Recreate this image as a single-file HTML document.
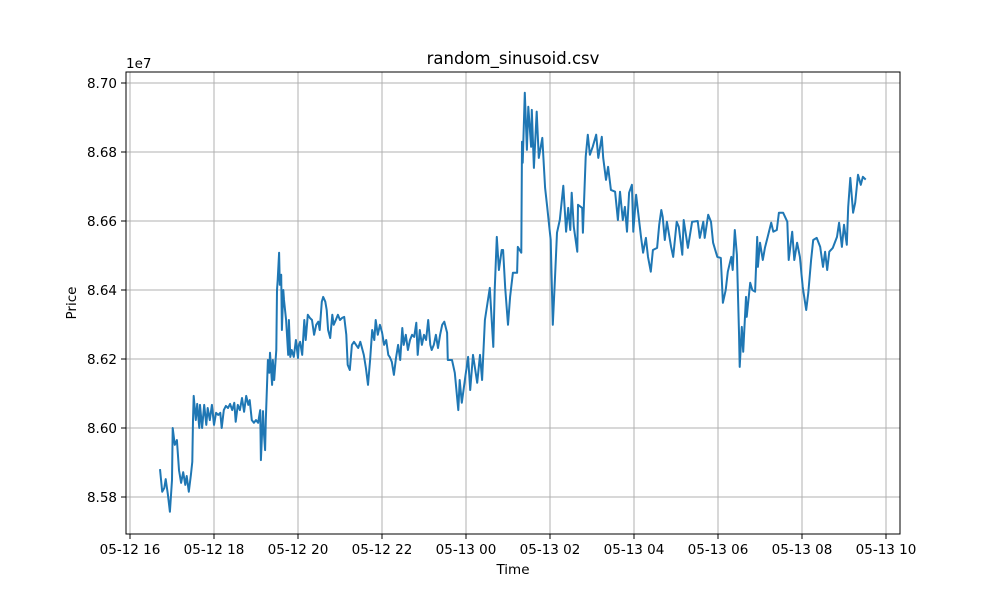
<!DOCTYPE html>
<html><head><meta charset="utf-8"><style>
body{margin:0;background:#fff;}
svg text{font-family:"DejaVu Sans","Liberation Sans",sans-serif;fill:#000;}
</style></head><body>
<svg id="chart" width="1000" height="600" xmlns="http://www.w3.org/2000/svg">
<rect width="1000" height="600" fill="#fff"/>
<g id="grid"></g>
<g id="series"></g>
<rect x="126" y="72" width="774" height="462" fill="none" stroke="#000" stroke-width="1"/>
<g id="axes"></g>
<text x="513" y="64" font-size="16.5" text-anchor="middle">random_sinusoid.csv</text>
<text x="513" y="574" font-size="13.5" text-anchor="middle">Time</text>
<text x="76" y="303" font-size="13.5" text-anchor="middle" transform="rotate(-90 76 303)">Price</text>
<text x="126" y="68" font-size="13.5">1e7</text>
</svg>
<script>
// minutes since 05-12 16:00
const times=[43,46,49,51,54,57,60,61,64,67,70,73,76,79,81,84,87,89,90,91,94,96,99,100,103,106,109,111,114,117,120,123,126,129,131,134,137,140,143,146,149,151,154,157,160,163,166,169,171,174,177,180,183,186,187,190,191,193,194,197,199,200,203,204,206,209,210,211,213,214,216,217,219,220,223,226,227,229,231,234,237,240,241,243,246,249,251,254,257,260,263,266,269,271,274,276,279,281,283,286,289,291,294,297,300,303,306,309,311,314,317,320,323,326,329,331,334,337,340,343,346,349,351,354,357,360,363,366,369,371,374,377,380,383,386,389,391,394,397,400,403,406,409,411,414,417,420,423,426,429,431,434,437,440,443,446,449,453,454,460,464,469,471,474,479,483,486,490,496,500,503,507,514,519,521,524,527,531,533,536,540,543,547,553,554,559,560,561,564,567,569,573,574,577,581,584,589,593,596,599,601,604,607,610,614,619,623,626,629,631,634,639,640,646,647,651,654,657,661,666,669,674,676,680,683,687,693,697,700,704,707,710,713,717,719,723,726,730,733,737,740,744,747,753,756,759,761,764,767,773,776,781,784,789,791,797,803,811,814,819,821,826,830,833,839,844,847,851,854,859,861,864,867,870,871,874,876,880,881,886,889,893,896,897,900,904,907,911,916,919,924,927,933,939,941,946,949,953,957,961,966,969,973,976,981,986,990,993,996,999,1004,1010,1013,1017,1020,1024,1026,1029,1033,1036,1040,1044,1047,1050];
// price in units of 1e7
const prices=[8.5878,8.5815,8.5826,8.5852,8.5809,8.5757,8.5849,8.6000,8.5951,8.5965,8.5878,8.5841,8.5872,8.5835,8.5861,8.5815,8.5864,8.5902,8.6023,8.6093,8.6023,8.6070,8.6000,8.6067,8.6000,8.6067,8.6009,8.6058,8.6023,8.6067,8.6009,8.6044,8.6038,8.6044,8.6000,8.6052,8.6064,8.6058,8.6070,8.6052,8.6073,8.6018,8.6067,8.6052,8.6087,8.6047,8.6093,8.6067,8.6081,8.6023,8.6015,8.6023,8.6015,8.6052,8.5907,8.6049,8.5994,8.5936,8.6023,8.6197,8.6160,8.6218,8.6125,8.6197,8.6139,8.6226,8.6400,8.6429,8.6508,8.6415,8.6444,8.6284,8.6400,8.6371,8.6313,8.6212,8.6313,8.6206,8.6226,8.6206,8.6255,8.6203,8.6238,8.6250,8.6212,8.6313,8.6255,8.6328,8.6319,8.6313,8.6270,8.6299,8.6308,8.6284,8.6366,8.6380,8.6366,8.6342,8.6284,8.6261,8.6328,8.6299,8.6313,8.6328,8.6313,8.6319,8.6322,8.6270,8.6183,8.6168,8.6241,8.6250,8.6241,8.6232,8.6250,8.6235,8.6212,8.6174,8.6125,8.6197,8.6284,8.6255,8.6313,8.6270,8.6299,8.6278,8.6241,8.6255,8.6212,8.6206,8.6192,8.6154,8.6203,8.6241,8.6197,8.6290,8.6241,8.6270,8.6226,8.6255,8.6270,8.6264,8.6305,8.6212,8.6284,8.6241,8.6270,8.6255,8.6313,8.6241,8.6226,8.6241,8.6270,8.6232,8.6270,8.6299,8.6308,8.6276,8.6197,8.6197,8.6160,8.6052,8.6139,8.6073,8.6148,8.6206,8.6110,8.6212,8.6131,8.6212,8.6139,8.6313,8.6406,8.6235,8.6400,8.6554,8.6458,8.6516,8.6516,8.6406,8.6299,8.6380,8.6450,8.6450,8.6525,8.6508,8.6830,8.6769,8.6972,8.6806,8.6931,8.6815,8.6922,8.6754,8.6917,8.6783,8.6841,8.6696,8.6641,8.6583,8.6545,8.6299,8.6429,8.6566,8.6603,8.6702,8.6569,8.6638,8.6574,8.6682,8.6583,8.6511,8.6647,8.6638,8.6566,8.6786,8.6850,8.6792,8.6815,8.6850,8.6783,8.6844,8.6783,8.6719,8.6757,8.6690,8.6685,8.6603,8.6685,8.6603,8.6641,8.6569,8.6682,8.6705,8.6569,8.6676,8.6624,8.6554,8.6508,8.6551,8.6496,8.6453,8.6516,8.6522,8.6589,8.6632,8.6612,8.6545,8.6598,8.6525,8.6496,8.6598,8.6583,8.6502,8.6603,8.6522,8.6598,8.6600,8.6551,8.6598,8.6551,8.6618,8.6598,8.6537,8.6496,8.6493,8.6363,8.6400,8.6453,8.6496,8.6458,8.6574,8.6502,8.6276,8.6177,8.6293,8.6221,8.6380,8.6322,8.6421,8.6400,8.6395,8.6554,8.6467,8.6537,8.6487,8.6522,8.6554,8.6595,8.6569,8.6574,8.6624,8.6624,8.6598,8.6487,8.6569,8.6487,8.6537,8.6496,8.6409,8.6342,8.6392,8.6487,8.6545,8.6551,8.6525,8.6467,8.6511,8.6458,8.6511,8.6522,8.6554,8.6595,8.6525,8.6589,8.6531,8.6641,8.6725,8.6624,8.6653,8.6734,8.6705,8.6728,8.6722];
const xTickMinutes=[0,120,240,360,480,600,720,840,960,1080];
const xTickLabels=["05-12 16","05-12 18","05-12 20","05-12 22","05-13 00","05-13 02","05-13 04","05-13 06","05-13 08","05-13 10"];
const yTicks=[8.58,8.60,8.62,8.64,8.66,8.68,8.70];
const yTickLabels=["8.58","8.60","8.62","8.64","8.66","8.68","8.70"];

const NS="http://www.w3.org/2000/svg";
function xs(m){return 130+m*0.7;}
function ys(p){return 497-(p-8.58)/0.02*69;}
const grid=document.getElementById('grid'),axes=document.getElementById('axes'),series=document.getElementById('series');
function mk(tag,attrs,parent){const e=document.createElementNS(NS,tag);for(const k in attrs)e.setAttribute(k,attrs[k]);parent.appendChild(e);return e;}
xTickMinutes.forEach((m,i)=>{
  const x=xs(m);
  if(x>126&&x<900){const g=mk('line',{x1:x,x2:x,y1:72,y2:534,stroke:'#b0b0b0','stroke-width':1},grid);
  
  }
  const t=mk('line',{x1:x,x2:x,y1:534,y2:539,stroke:'#000','stroke-width':1},axes);
  
  
  const l=mk('text',{x:x,y:554,'font-size':13.5,'text-anchor':'middle'},axes);
  l.textContent=xTickLabels[i];
  
  
});
yTicks.forEach((v,i)=>{
  const y=ys(v);
  const g=mk('line',{x1:126,x2:900,y1:y,y2:y,stroke:'#b0b0b0','stroke-width':1},grid);
  
  
  const t=mk('line',{x1:121,x2:126,y1:y,y2:y,stroke:'#000','stroke-width':1},axes);
  
  
  const l=mk('text',{x:117,y:y+5,'font-size':13.5,'text-anchor':'end'},axes);
  l.textContent=yTickLabels[i];
  
  
});
const d=times.map((m,i)=>(i?'L':'M')+xs(m).toFixed(1)+' '+ys(prices[i]).toFixed(1)).join(' ');
const path=mk('path',{d:d,fill:'none',stroke:'#1f77b4','stroke-width':2,'stroke-linejoin':'round','stroke-linecap':'square'},series);


</script>
</body></html>
